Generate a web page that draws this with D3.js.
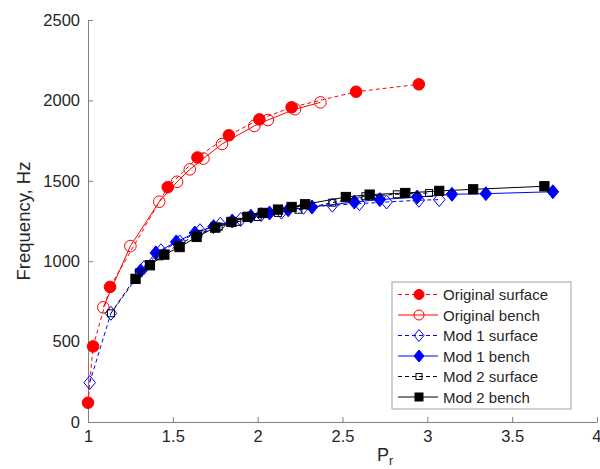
<!DOCTYPE html>
<html>
<head>
<meta charset="utf-8">
<script src="https://cdn.jsdelivr.net/npm/d3@7"></script>
<style>
  body { margin: 0; background: #fff; }
  svg { display: block; font-family: "Liberation Sans", Arial, sans-serif; }
</style>
</head>
<body>
<svg></svg>
<script>
// Data (P_r vs frequency in Hz)
const origSurfP = [1.0, 1.03, 1.13, 1.47, 1.645, 1.83, 2.01, 2.2, 2.58, 2.95];
const origSurfF = [120, 470, 840, 1460, 1645, 1783, 1882, 1957, 2054, 2100];

const origBenchP = [1.09, 1.25, 1.42, 1.525, 1.6, 1.68, 1.79, 1.98, 2.06, 2.22, 2.37];
const origBenchF = [713, 1094, 1370, 1494, 1571, 1638, 1729, 1841, 1878, 1945, 1988];

const mod1SurfP = [1.01, 1.135, 1.33, 1.43, 1.54, 1.66, 1.78, 1.9, 2.02, 2.14, 2.27, 2.44, 2.6, 2.76, 2.95, 3.07];
const mod1SurfF = [245, 676, 960, 1065, 1120, 1190, 1230, 1260, 1290, 1305, 1335, 1348, 1358, 1368, 1379, 1383];

const mod1BenchP = [1.31, 1.4, 1.52, 1.63, 1.74, 1.85, 1.96, 2.07, 2.18, 2.32, 2.57, 2.72, 2.94, 3.145, 3.345, 3.74];
const mod1BenchF = [940, 1052, 1120, 1175, 1215, 1250, 1280, 1300, 1320, 1337, 1368, 1383, 1399, 1416, 1420, 1432];

const mod2SurfP = [1.135, 1.3, 1.42, 1.53, 1.65, 1.77, 1.88, 2.0, 2.12, 2.24, 2.44, 2.635, 2.82, 3.01];
const mod2SurfF = [676, 930, 1030, 1100, 1170, 1215, 1245, 1275, 1300, 1320, 1364, 1404, 1416, 1424];

const mod2BenchP = [1.28, 1.365, 1.45, 1.54, 1.64, 1.75, 1.845, 1.94, 2.03, 2.12, 2.2, 2.28, 2.52, 2.66, 2.87, 3.07, 3.27, 3.69];
const mod2BenchF = [890, 975, 1041, 1088, 1151, 1209, 1244, 1276, 1300, 1321, 1337, 1354, 1399, 1414, 1424, 1437, 1447, 1466];

const xTicks = [1, 1.5, 2, 2.5, 3, 3.5, 4];
const yTicks = [0, 500, 1000, 1500, 2000, 2500];

const series = [
    { name: 'Original surface', P: origSurfP, F: origSurfF, color: '#ff0000', dash: true,  marker: 'circle',  fill: true },
    { name: 'Original bench',   P: origBenchP, F: origBenchF, color: '#ff0000', dash: false, marker: 'circle',  fill: false },
    { name: 'Mod 1 surface',    P: mod1SurfP, F: mod1SurfF, color: '#0000ff', dash: true,  marker: 'diamond', fill: false },
    { name: 'Mod 1 bench',      P: mod1BenchP, F: mod1BenchF, color: '#0000ff', dash: false, marker: 'diamond', fill: true },
    { name: 'Mod 2 surface',    P: mod2SurfP, F: mod2SurfF, color: '#000000', dash: true,  marker: 'square',  fill: false },
    { name: 'Mod 2 bench',      P: mod2BenchP, F: mod2BenchF, color: '#000000', dash: false, marker: 'square',  fill: true }
];

const width = 600, height = 469;
const svg = d3.select('svg').attr('width', width).attr('height', height);

const x = d3.scaleLinear().domain([1, 4]).range([88, 597]);
const y = d3.scaleLinear().domain([0, 2500]).range([422, 20]);

const axisColor = '#7f7f7f', textColor = '#262626';

// Axes (ticks pointing inward, no box)
const xAxis = svg.append('g')
    .attr('transform', `translate(0,${y(0)})`)
    .call(d3.axisBottom(x).tickValues(xTicks).tickSizeInner(-5).tickSizeOuter(0).tickPadding(8)
        .tickFormat(d3.format('')));
const yAxis = svg.append('g')
    .attr('transform', `translate(${x(1)},0)`)
    .call(d3.axisLeft(y).tickValues(yTicks).tickSizeInner(-5).tickSizeOuter(0).tickPadding(8)
        .tickFormat(d3.format('d')));

[xAxis, yAxis].forEach(a => {
    a.select('.domain').attr('stroke', axisColor);
    a.selectAll('.tick line').attr('stroke', axisColor);
    a.selectAll('.tick text').attr('fill', textColor).style('font-size', '16.5px')
        .style('font-family', '"Liberation Sans", Arial, sans-serif');
});
// keep the last x label inside the frame
xAxis.selectAll('.tick text').filter(d => d === 4).attr('text-anchor', 'end').attr('dx', 4);

// Axis labels
svg.append('text')
    .attr('transform', `translate(30,${(y(0) + y(2500)) / 2}) rotate(-90)`)
    .attr('text-anchor', 'middle')
    .attr('fill', textColor)
    .style('font-size', '18.5px')
    .text('Frequency, Hz');

const xl = svg.append('text')
    .attr('x', 377).attr('y', 461)
    .attr('fill', textColor)
    .style('font-size', '18px');
xl.append('tspan').text('P');
xl.append('tspan').attr('dy', 4).style('font-size', '12.5px').text('r');

// Marker drawing helper
function drawMarker(sel, type, cx, cy, color, fill, s) {
    if (type === 'circle') {
        sel.append('circle').attr('cx', cx).attr('cy', cy).attr('r', s)
            .attr('fill', fill ? color : 'none').attr('stroke', color).attr('stroke-width', 1);
    } else if (type === 'diamond') {
        const w = s * 1.0, h = s * 1.2;
        sel.append('path')
            .attr('d', `M${cx},${cy - h}L${cx + w},${cy}L${cx},${cy + h}L${cx - w},${cy}Z`)
            .attr('fill', fill ? color : 'none').attr('stroke', color).attr('stroke-width', 1);
    } else {
        const h = fill ? s * 0.8 : s * 0.6;
        sel.append('rect').attr('x', cx - h).attr('y', cy - h).attr('width', 2 * h).attr('height', 2 * h)
            .attr('fill', fill ? color : 'none').attr('stroke', color).attr('stroke-width', 1);
    }
}

const line = d3.line().x(d => x(d[0])).y(d => y(d[1]));
const plot = svg.append('g');

series.forEach(s => {
    const pts = s.P.map((p, i) => [p, s.F[i]]);
    const g = plot.append('g');
    g.append('path')
        .attr('d', line(pts))
        .attr('fill', 'none')
        .attr('stroke', s.color)
        .attr('stroke-width', 1)
        .attr('stroke-dasharray', s.dash ? '4,3' : null);
    pts.forEach(d => drawMarker(g, s.marker, x(d[0]), y(d[1]), s.color, s.fill, 5.8));
});

// Legend
const legend = svg.append('g').attr('transform', 'translate(392,282)');
legend.append('rect')
    .attr('width', 179).attr('height', 127)
    .attr('fill', '#fff').attr('stroke', '#a0a0a0').attr('stroke-width', 1);

series.forEach((s, i) => {
    const ly = 12.5 + i * 20.5;
    legend.append('line')
        .attr('x1', 6).attr('x2', 46).attr('y1', ly).attr('y2', ly)
        .attr('stroke', s.color).attr('stroke-width', 1)
        .attr('stroke-dasharray', s.dash ? '4,3' : null);
    drawMarker(legend, s.marker, 27, ly, s.color, s.fill, 5);
    legend.append('text')
        .attr('x', 51).attr('y', ly + 5.5)
        .attr('fill', textColor)
        .style('font-size', '15px')
        .text(s.name);
});
</script>
</body>
</html>
